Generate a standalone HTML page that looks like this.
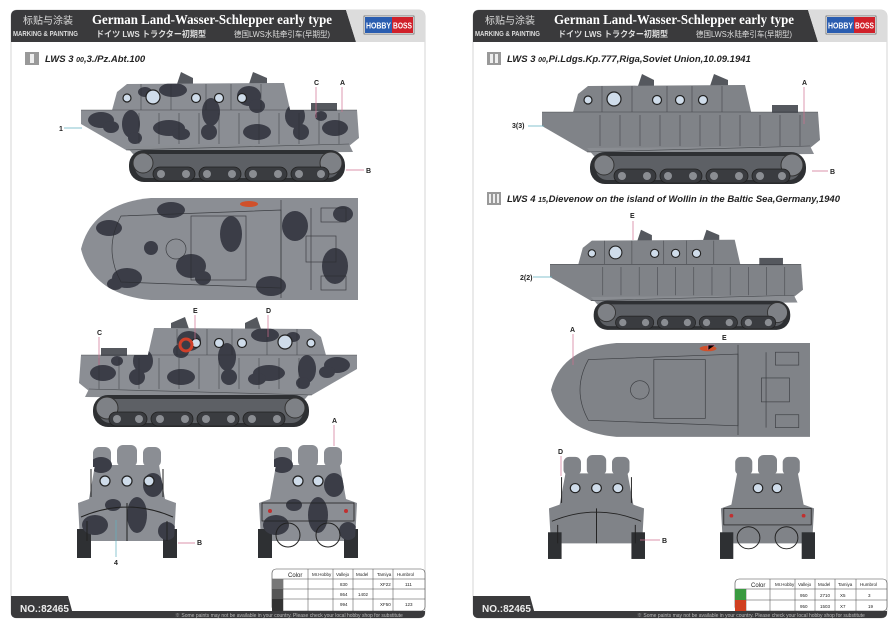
<!DOCTYPE html>
<html><head><meta charset="utf-8"><style>
html,body{margin:0;padding:0;background:#fff;}
svg{display:block;}
text{font-family:"Liberation Sans","Noto Sans CJK SC",sans-serif;}
text.serif{font-family:"Liberation Serif","Noto Serif CJK SC",serif;}
</style></head><body>
<svg width="895" height="631" viewBox="0 0 895 631" xmlns="http://www.w3.org/2000/svg">
<defs>
  <path id="sCab" d="M30,34 L36,12 L46,4 L198,3 L203,3 L210,34 Z"/>
  <path id="sHull" d="M0,30 L276,30 L278,58 L268,66 L60,72 L45,70 L0,44 Z"/>
  <g id="sideBody">
    <path d="M96,4 L100,-8 L112,-2 L112,4 Z" fill="#55585e"/>
    <path d="M168,4 L172,-8 L186,-2 L186,4 Z" fill="#55585e"/>
    <use href="#sCab"/>
    <use href="#sHull"/>
    <rect x="230" y="23" width="26" height="8" fill="#55585e"/>
    <path d="M45,66 L268,64 L272,72 L52,74 Z" fill="#8a8d92"/>
  </g>
  <g id="sideDetail">
    <g stroke="#2a2c30" stroke-width="0.6" fill="none" opacity="0.7">
      <path d="M0,30 L276,30 M45,70 L268,64 M58,33 V64 M78,33 V64 M98,33 V64 M118,33 V64 M138,33 V64 M158,33 V64 M178,33 V64 M198,33 V64 M218,33 V64 M238,33 V64 M258,33 V64 M60,4 V30 M90,4 V30 M125,4 V30 M150,4 V30 M180,4 V30"/>
    </g>
    <g fill="#cfdcea" stroke="#222" stroke-width="1.2">
      <circle cx="46" cy="18" r="4"/><circle cx="72" cy="17" r="7"/>
      <circle cx="115" cy="18" r="4.5"/><circle cx="138" cy="18" r="4.5"/><circle cx="161" cy="18" r="4.5"/>
    </g>
    <rect x="48" y="70" width="216" height="32" rx="15" fill="#2e3033"/>
    <rect x="54" y="74" width="204" height="24" rx="11" fill="#5d6065"/>
    <circle cx="62" cy="83" r="10" fill="#7e8186" stroke="#333"/>
    <circle cx="250" cy="83" r="11" fill="#7e8186" stroke="#333"/>
    <g fill="#3a3c40" stroke="#222" stroke-width="0.8">
      <rect x="72" y="87" width="42" height="14" rx="7"/><rect x="118" y="87" width="42" height="14" rx="7"/>
      <rect x="164" y="87" width="42" height="14" rx="7"/><rect x="210" y="87" width="38" height="14" rx="7"/>
    </g>
    <g fill="#8a8d92"><circle cx="80" cy="94" r="4"/><circle cx="105" cy="94" r="4"/><circle cx="126" cy="94" r="4"/><circle cx="151" cy="94" r="4"/><circle cx="172" cy="94" r="4"/><circle cx="197" cy="94" r="4"/><circle cx="218" cy="94" r="4"/><circle cx="240" cy="94" r="4"/></g>
  </g>
  <clipPath id="sideClip"><use href="#sCab"/><use href="#sHull"/></clipPath>
  <g id="sideCamo" clip-path="url(#sideClip)" fill="#3b3d47">
    <ellipse cx="20" cy="40" rx="13" ry="8"/><ellipse cx="30" cy="47" rx="8" ry="6"/>
    <ellipse cx="50" cy="44" rx="9" ry="14"/><ellipse cx="54" cy="58" rx="7" ry="6"/>
    <ellipse cx="92" cy="10" rx="14" ry="7"/><ellipse cx="88" cy="48" rx="16" ry="8"/><ellipse cx="100" cy="54" rx="9" ry="6"/>
    <ellipse cx="130" cy="32" rx="9" ry="14"/><ellipse cx="128" cy="52" rx="8" ry="8"/>
    <ellipse cx="168" cy="16" rx="12" ry="10"/><ellipse cx="176" cy="26" rx="8" ry="7"/>
    <ellipse cx="176" cy="52" rx="14" ry="8"/><ellipse cx="214" cy="36" rx="10" ry="12"/><ellipse cx="220" cy="52" rx="8" ry="8"/>
    <ellipse cx="254" cy="48" rx="13" ry="8"/><ellipse cx="64" cy="12" rx="7" ry="5"/><ellipse cx="240" cy="36" rx="6" ry="5"/>
  </g>
  <path id="tShape" d="M0,51 C8,18 35,3 70,0 L277,0 L277,102 L70,102 C35,99 8,84 0,51 Z"/>
  <g id="topDetail" fill="none" stroke="#2a2c30" stroke-width="0.7" opacity="0.8">
    <path d="M40,18 L200,12 L200,90 L40,84 Q22,51 40,18 Z"/>
    <rect x="110" y="18" width="55" height="64"/>
    <circle cx="95" cy="51" r="10"/>
    <path d="M200,2 V100 M230,10 V92"/>
    <rect x="225" y="38" width="30" height="26"/>
    <rect x="240" y="10" width="25" height="14"/><rect x="240" y="78" width="25" height="14"/>
  </g>
  <clipPath id="topClip"><use href="#tShape"/></clipPath>
  <g id="topCamo" clip-path="url(#topClip)" fill="#3b3d47">
    <ellipse cx="28" cy="30" rx="13" ry="8"/><ellipse cx="46" cy="80" rx="15" ry="10"/><ellipse cx="34" cy="86" rx="8" ry="6"/>
    <ellipse cx="90" cy="12" rx="14" ry="8"/><ellipse cx="110" cy="68" rx="15" ry="12"/><ellipse cx="122" cy="80" rx="8" ry="7"/>
    <ellipse cx="150" cy="36" rx="11" ry="18"/><ellipse cx="190" cy="88" rx="15" ry="10"/>
    <ellipse cx="214" cy="28" rx="13" ry="15"/><ellipse cx="254" cy="68" rx="13" ry="18"/>
    <ellipse cx="70" cy="50" rx="7" ry="7"/><ellipse cx="262" cy="16" rx="10" ry="8"/>
  </g>
  <path id="fShape" d="M12,54 L18,20 L82,20 L88,54 L99,58 L97,96 L3,96 L1,58 Z"/>
  <g id="frontBase">
    <rect x="16" y="2" width="18" height="20" rx="6"/><rect x="40" y="0" width="20" height="22" rx="6"/><rect x="66" y="2" width="18" height="20" rx="6"/>
    <use href="#fShape"/>
    <rect x="0" y="84" width="14" height="29" fill="#2e3033"/>
    <rect x="86" y="84" width="14" height="29" fill="#2e3033"/>
  </g>
  <clipPath id="fClip"><use href="#fShape"/><rect x="16" y="0" width="68" height="22"/></clipPath>
  <g id="frontCamo" clip-path="url(#fClip)" fill="#3b3d47">
    <ellipse cx="24" cy="20" rx="11" ry="8"/><ellipse cx="76" cy="40" rx="10" ry="12"/>
    <ellipse cx="18" cy="80" rx="13" ry="10"/><ellipse cx="60" cy="70" rx="10" ry="18"/>
    <ellipse cx="90" cy="86" rx="9" ry="9"/><ellipse cx="36" cy="60" rx="8" ry="6"/>
  </g>
  <g id="frontA">
    <g fill="#cfdcea" stroke="#222" stroke-width="1.2"><circle cx="28" cy="36" r="5"/><circle cx="50" cy="36" r="5"/><circle cx="72" cy="36" r="5"/></g>
    <path d="M4,72 Q50,52 96,72 M10,96 V76 M90,96 V76 M50,58 V96 M14,24 V52 M86,24 V52" stroke="#222" stroke-width="1" fill="none"/>
  </g>
  <g id="frontB">
    <g fill="#cfdcea" stroke="#222" stroke-width="1.2"><circle cx="40" cy="36" r="5"/><circle cx="60" cy="36" r="5"/></g>
    <rect x="4" y="58" width="92" height="18" fill="none" stroke="#222" stroke-width="0.8"/>
    <circle cx="30" cy="90" r="12" fill="none" stroke="#222"/><circle cx="70" cy="90" r="12" fill="none" stroke="#222"/>
    <circle cx="12" cy="66" r="2" fill="#c03030"/><circle cx="88" cy="66" r="2" fill="#c03030"/>
  </g>
</defs>

<!-- LEFT PAGE -->
<rect x="11" y="10" width="414" height="608" rx="6" fill="#fff" stroke="#ccc" stroke-width="0.8"/>
<path d="M17,10 L346,10 L356,42 L11,42 L11,16 Q11,10 17,10 Z" fill="#3a3a3c"/>
<path d="M346,10 L419,10 Q425,10 425,16 L425,42 L356,42 Z" fill="#dcdcdc"/>
<rect x="364" y="16" width="50" height="18" fill="#fff" stroke="#444" stroke-width="0.6"/>
<rect x="365" y="17" width="27" height="16" fill="#2a5db0"/><rect x="392" y="17" width="21" height="16" fill="#d0202a"/>
<text x="366" y="28.5" font-size="8" font-weight="bold" fill="#fff" textLength="25" lengthAdjust="spacingAndGlyphs">HOBBY</text><text x="393" y="28.5" font-size="8" font-weight="bold" fill="#fff" textLength="19" lengthAdjust="spacingAndGlyphs">BOSS</text>
<text x="23" y="24" font-size="10" fill="#ddd">标贴与涂装</text>
<text x="13" y="36" font-size="7" font-weight="bold" fill="#ddd" textLength="65" lengthAdjust="spacingAndGlyphs">MARKING &amp; PAINTING</text>
<text class="serif" x="92" y="24" font-size="14" font-weight="bold" fill="#fff" textLength="240" lengthAdjust="spacingAndGlyphs">German Land-Wasser-Schlepper early type</text>
<text x="96" y="37" font-size="8.5" font-weight="bold" fill="#ddd" textLength="110" lengthAdjust="spacingAndGlyphs">ドイツ LWS トラクター初期型</text>
<text x="234" y="37" font-size="8" fill="#ddd" textLength="96" lengthAdjust="spacingAndGlyphs">德国LWS水陆牵引车(早期型)</text>
<rect x="25" y="52" width="14" height="13" fill="#999"/><rect x="30" y="54" width="4" height="9" fill="#eee"/>
<text x="45" y="62" font-size="9.5" font-weight="bold" font-style="italic" fill="#222">LWS 3 <tspan font-size="7">00</tspan>,3./Pz.Abt.100</text>

<g transform="translate(81,80)"><use href="#sideBody" fill="#8b8e94"/><use href="#sideCamo"/><use href="#sideDetail"/></g>
<g transform="translate(81,198)"><use href="#tShape" fill="#8b8e94"/><use href="#topCamo"/><use href="#topDetail"/><ellipse cx="168" cy="6" rx="9" ry="3" fill="#d0502a"/></g>
<g transform="translate(357,325) scale(-1,1)"><use href="#sideBody" fill="#8b8e94"/><use href="#sideCamo"/><use href="#sideDetail"/></g>
<circle cx="186" cy="345" r="6" fill="none" stroke="#d0402a" stroke-width="3"/>
<g transform="translate(77,445)"><use href="#frontBase" fill="#8b8e94"/><use href="#frontCamo"/><use href="#frontA"/></g>
<g transform="translate(258,445)"><use href="#frontBase" fill="#8b8e94"/><use href="#frontCamo"/><use href="#frontB"/></g>

<g font-size="7" font-weight="bold" fill="#222">
<text x="314" y="85">C</text><text x="340" y="85">A</text><text x="59" y="131">1</text><text x="366" y="173">B</text>
<text x="193" y="313">E</text><text x="266" y="313">D</text><text x="97" y="335">C</text><text x="332" y="423">A</text>
<text x="197" y="545">B</text><text x="114" y="565">4</text>
</g>
<g stroke="#d07090" stroke-width="0.7"><path d="M316,87 V118 M342,87 V112 M346,170 H364 M195,315 V340 M268,315 V337 M99,337 V365 M334,425 V446 M178,543 H195"/></g>
<g stroke="#60b0c0" stroke-width="0.7"><path d="M64,128 H82 M116,557 V520"/></g>

<g font-size="4.5" fill="#222">
<rect x="272" y="569" width="153" height="42" rx="4" fill="#fff" stroke="#444" stroke-width="0.6"/>
<path d="M272,579 H425 M272,589 H425 M272,599 H425 M308,569 V611 M333,569 V611 M353,569 V611 M373,569 V611 M393,569 V611 M283,579 V611" stroke="#444" stroke-width="0.5"/>
<rect x="272" y="579" width="11" height="10" fill="#777"/><rect x="272" y="589" width="11" height="10" fill="#555"/><rect x="272" y="599" width="11" height="12" fill="#333"/>
<text x="288" y="577" font-size="6">Color</text><text x="312" y="576">Mr.Hobby</text><text x="336" y="576">Vallejo</text><text x="356" y="576">Model</text><text x="377" y="576">Tamiya</text><text x="397" y="576">Humbrol</text>
<text x="340" y="586">830</text><text x="380" y="586">XF22</text><text x="405" y="586">111</text>
<text x="340" y="596">864</text><text x="358" y="596">1402</text>
<text x="340" y="606">994</text><text x="380" y="606">XF50</text><text x="405" y="606">123</text>
</g>
<path d="M11,611 L425,611 L425,613 Q425,618 419,618 L17,618 Q11,618 11,613 Z" fill="#3a3a3c"/>
<path d="M11,596 L68,596 L74,618 L17,618 Q11,618 11,612 Z" fill="#3a3a3c"/>
<text x="20" y="612" font-size="10" font-weight="bold" fill="#eee">NO.:82465</text>
<text x="175" y="617" font-size="5" fill="#bbb">※ Some paints may not be available in your country. Please check your local hobby shop for substitute</text>

<!-- RIGHT PAGE -->
<rect x="473" y="10" width="414" height="608" rx="6" fill="#fff" stroke="#ccc" stroke-width="0.8"/>
<path d="M479,10 L808,10 L818,42 L473,42 L473,16 Q473,10 479,10 Z" fill="#3a3a3c"/>
<path d="M808,10 L881,10 Q887,10 887,16 L887,42 L818,42 Z" fill="#dcdcdc"/>
<rect x="826" y="16" width="50" height="18" fill="#fff" stroke="#444" stroke-width="0.6"/>
<rect x="827" y="17" width="27" height="16" fill="#2a5db0"/><rect x="854" y="17" width="21" height="16" fill="#d0202a"/>
<text x="828" y="28.5" font-size="8" font-weight="bold" fill="#fff" textLength="25" lengthAdjust="spacingAndGlyphs">HOBBY</text><text x="855" y="28.5" font-size="8" font-weight="bold" fill="#fff" textLength="19" lengthAdjust="spacingAndGlyphs">BOSS</text>
<text x="485" y="24" font-size="10" fill="#ddd">标贴与涂装</text>
<text x="475" y="36" font-size="7" font-weight="bold" fill="#ddd" textLength="65" lengthAdjust="spacingAndGlyphs">MARKING &amp; PAINTING</text>
<text class="serif" x="554" y="24" font-size="14" font-weight="bold" fill="#fff" textLength="240" lengthAdjust="spacingAndGlyphs">German Land-Wasser-Schlepper early type</text>
<text x="558" y="37" font-size="8.5" font-weight="bold" fill="#ddd" textLength="110" lengthAdjust="spacingAndGlyphs">ドイツ LWS トラクター初期型</text>
<text x="696" y="37" font-size="8" fill="#ddd" textLength="96" lengthAdjust="spacingAndGlyphs">德国LWS水陆牵引车(早期型)</text>
<rect x="487" y="52" width="14" height="13" fill="#999"/><rect x="490" y="54" width="3" height="9" fill="#eee"/><rect x="495" y="54" width="3" height="9" fill="#eee"/>
<text x="507" y="62" font-size="9.5" font-weight="bold" font-style="italic" fill="#222">LWS 3 <tspan font-size="7">00</tspan>,Pi.Ldgs.Kp.777,Riga,Soviet Union,10.09.1941</text>
<rect x="487" y="192" width="14" height="13" fill="#999"/><rect x="489" y="194" width="2" height="9" fill="#eee"/><rect x="493" y="194" width="2" height="9" fill="#eee"/><rect x="497" y="194" width="2" height="9" fill="#eee"/>
<text x="507" y="202" font-size="9.5" font-weight="bold" font-style="italic" fill="#222">LWS 4 <tspan font-size="7">15</tspan>,Dievenow on the island of Wollin in the Baltic Sea,Germany,1940</text>

<g transform="translate(542,82)"><use href="#sideBody" fill="#808388"/><use href="#sideDetail"/></g>
<g transform="translate(550,237) scale(0.91)"><use href="#sideBody" fill="#808388"/><use href="#sideDetail"/></g>
<g transform="translate(551,343) scale(0.935,0.92)"><use href="#tShape" fill="#808388"/><use href="#topDetail"/><ellipse cx="168" cy="6" rx="9" ry="3" fill="#d0502a"/></g>
<g transform="translate(548,455) scale(0.97,0.92)"><use href="#frontBase" fill="#808388"/><use href="#frontA"/></g>
<g transform="translate(720,455) scale(0.95,0.92)"><use href="#frontBase" fill="#808388"/><use href="#frontB"/></g>

<g font-size="7" font-weight="bold" fill="#222">
<text x="802" y="85">A</text><text x="512" y="128">3(3)</text><text x="830" y="174">B</text>
<text x="630" y="218">E</text><text x="520" y="280">2(2)</text><text x="570" y="332">A</text><text x="722" y="340">E</text>
<text x="558" y="454">D</text><text x="662" y="543">B</text>
</g>
<g stroke="#d07090" stroke-width="0.7"><path d="M804,87 V124 M812,171 H828 M633,221 V240 M573,334 V365 M715,345 H708 V350 M561,456 V476 M640,540 H660"/></g>
<g stroke="#60b0c0" stroke-width="0.7"><path d="M528,126 H544 M533,277 H552"/></g>

<g font-size="4.5" fill="#222">
<rect x="735" y="579" width="152" height="32" rx="4" fill="#fff" stroke="#444" stroke-width="0.6"/>
<path d="M735,589 H887 M735,600 H887 M770,579 V611 M795,579 V611 M815,579 V611 M835,579 V611 M856,579 V611 M746,589 V611" stroke="#444" stroke-width="0.5"/>
<rect x="735" y="589" width="11" height="11" fill="#3a9a40"/><rect x="735" y="600" width="11" height="11" fill="#d04020"/>
<text x="751" y="587" font-size="6">Color</text><text x="775" y="586">Mr.Hobby</text><text x="798" y="586">Vallejo</text><text x="818" y="586">Model</text><text x="838" y="586">Tamiya</text><text x="860" y="586">Humbrol</text>
<text x="800" y="597">950</text><text x="820" y="597">2710</text><text x="840" y="597">X5</text><text x="868" y="597">3</text>
<text x="800" y="608">950</text><text x="820" y="608">1503</text><text x="840" y="608">X7</text><text x="868" y="608">19</text>
</g>
<path d="M473,611 L887,611 L887,613 Q887,618 881,618 L479,618 Q473,618 473,613 Z" fill="#3a3a3c"/>
<path d="M473,596 L530,596 L536,618 L479,618 Q473,618 473,612 Z" fill="#3a3a3c"/>
<text x="482" y="612" font-size="10" font-weight="bold" fill="#eee">NO.:82465</text>
<text x="637" y="617" font-size="5" fill="#bbb">※ Some paints may not be available in your country. Please check your local hobby shop for substitute</text>
</svg>
</body></html>
